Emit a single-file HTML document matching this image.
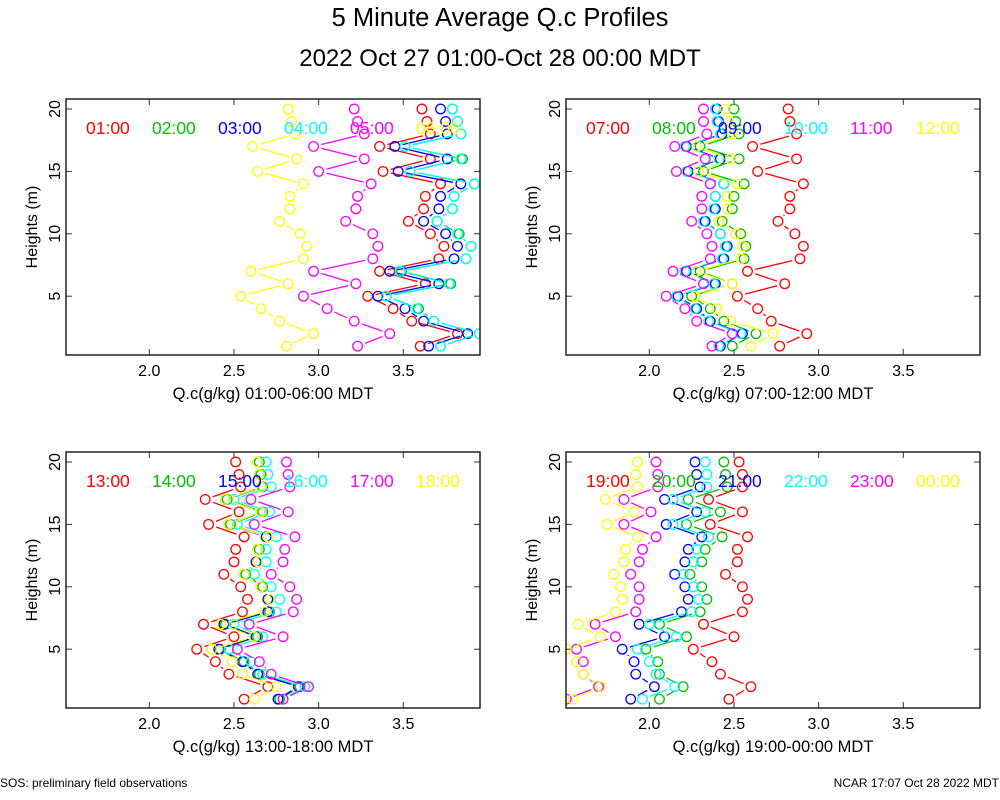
<!DOCTYPE html>
<html><head><meta charset="utf-8"><style>
html,body{margin:0;padding:0;background:#fff;}
svg{display:block;font-family:"Liberation Sans",sans-serif;}
</style></head><body>
<svg id="chart" width="1000" height="800" viewBox="0 0 1000 800" xmlns="http://www.w3.org/2000/svg">
<text x="500" y="26" font-size="25.5" text-anchor="middle">5 Minute Average Q.c Profiles</text>
<text x="500" y="66" font-size="24" text-anchor="middle">2022 Oct 27 01:00-Oct 28 00:00 MDT</text>
<text x="0" y="787" font-size="12">SOS: preliminary field observations</text>
<text x="999" y="787" font-size="12" text-anchor="end">NCAR 17:07 Oct 28 2022 MDT</text>
</svg>
<script>
const heights=[20,19,18,17,16,15,14,13,12,11,10,9,8,7,6,5,4,3,2,1];
const xTicks=[2.0,2.5,3.0,3.5];
const yTicks=[5,10,15,20];
const colors=["#ff0000","#00c000","#0000ff","#00ffff","#ff00ff","#ffff00"];
const labels1=["01:00","02:00","03:00","04:00","05:00","06:00"];
const labels2=["07:00","08:00","09:00","10:00","11:00","12:00"];
const labels3=["13:00","14:00","15:00","16:00","17:00","18:00"];
const labels4=["19:00","20:00","21:00","22:00","23:00","00:00"];
const p1_01=[3.61,3.64,3.66,3.36,3.66,3.38,3.72,3.63,3.62,3.53,3.66,3.74,3.71,3.36,3.63,3.29,3.44,3.55,3.82,3.60];
const p1_02=[3.79,3.82,3.84,3.51,3.85,3.54,3.92,3.80,3.79,3.70,3.83,3.90,3.87,3.49,3.78,3.40,3.59,3.68,3.95,3.72];
const p1_03=[3.72,3.75,3.76,3.45,3.76,3.47,3.84,3.72,3.71,3.62,3.75,3.82,3.80,3.42,3.71,3.35,3.51,3.62,3.88,3.65];
const p1_04=[3.79,3.82,3.84,3.51,3.84,3.54,3.92,3.80,3.79,3.70,3.82,3.90,3.87,3.48,3.77,3.40,3.58,3.68,3.95,3.72];
const p1_05=[3.21,3.23,3.27,2.97,3.27,3.00,3.31,3.23,3.22,3.16,3.32,3.35,3.32,2.97,3.22,2.91,3.05,3.21,3.42,3.23];
const p1_06=[2.82,2.84,2.86,2.61,2.87,2.64,2.91,2.83,2.83,2.77,2.89,2.93,2.91,2.60,2.82,2.54,2.66,2.77,2.97,2.81];
const p2_07=[2.82,2.83,2.87,2.61,2.87,2.64,2.91,2.83,2.83,2.76,2.86,2.91,2.89,2.58,2.80,2.52,2.64,2.72,2.93,2.77];
const p2_08=[2.50,2.51,2.53,2.30,2.53,2.32,2.56,2.50,2.49,2.43,2.54,2.57,2.56,2.30,2.49,2.25,2.36,2.44,2.63,2.49];
const p2_09=[2.40,2.41,2.43,2.22,2.42,2.23,2.44,2.39,2.39,2.33,2.42,2.46,2.44,2.22,2.39,2.17,2.28,2.36,2.55,2.42];
const p2_10=[2.39,2.40,2.42,2.21,2.41,2.22,2.44,2.39,2.38,2.32,2.42,2.45,2.43,2.21,2.38,2.16,2.27,2.35,2.54,2.41];
const p2_11=[2.32,2.32,2.34,2.15,2.33,2.16,2.36,2.31,2.31,2.25,2.34,2.37,2.36,2.14,2.32,2.10,2.21,2.28,2.49,2.37];
const p2_12=[2.45,2.47,2.49,2.28,2.48,2.29,2.52,2.46,2.46,2.41,2.51,2.55,2.54,2.28,2.49,2.27,2.40,2.48,2.73,2.60];
const p3_13=[2.51,2.53,2.54,2.33,2.53,2.35,2.56,2.51,2.50,2.44,2.54,2.58,2.55,2.32,2.50,2.28,2.39,2.47,2.70,2.56];
const p3_14=[2.65,2.66,2.67,2.46,2.67,2.48,2.70,2.65,2.64,2.57,2.67,2.71,2.71,2.45,2.64,2.42,2.56,2.65,2.89,2.77];
const p3_15=[2.64,2.65,2.66,2.45,2.66,2.47,2.69,2.64,2.63,2.56,2.66,2.70,2.70,2.44,2.63,2.41,2.55,2.64,2.88,2.76];
const p3_16=[2.69,2.70,2.72,2.50,2.71,2.52,2.75,2.69,2.69,2.62,2.72,2.77,2.75,2.50,2.67,2.47,2.60,2.67,2.92,2.79];
const p3_17=[2.81,2.82,2.83,2.60,2.82,2.62,2.86,2.80,2.79,2.72,2.83,2.87,2.85,2.59,2.79,2.52,2.65,2.72,2.94,2.79];
const p3_18=[2.64,2.65,2.66,2.45,2.66,2.47,2.70,2.64,2.64,2.56,2.66,2.71,2.68,2.42,2.62,2.37,2.49,2.55,2.75,2.62];
const p4_19=[2.53,2.55,2.55,2.35,2.55,2.36,2.58,2.52,2.52,2.45,2.55,2.58,2.55,2.32,2.50,2.26,2.37,2.42,2.60,2.47];
const p4_20=[2.44,2.45,2.46,2.23,2.42,2.22,2.43,2.33,2.31,2.24,2.31,2.34,2.30,2.06,2.22,1.98,2.05,2.06,2.20,2.06];
const p4_21=[2.27,2.28,2.30,2.09,2.28,2.10,2.31,2.23,2.21,2.15,2.21,2.23,2.19,1.94,2.09,1.84,1.91,1.92,2.03,1.89];
const p4_22=[2.33,2.34,2.34,2.14,2.33,2.14,2.35,2.28,2.26,2.20,2.26,2.29,2.25,2.00,2.16,1.93,2.00,2.04,2.15,1.96];
const p4_23=[2.04,2.05,2.05,1.85,2.01,1.85,2.04,1.96,1.94,1.89,1.94,1.94,1.92,1.68,1.80,1.57,1.61,1.61,1.70,1.51];
const p4_00=[1.93,1.92,1.93,1.74,1.91,1.75,1.93,1.86,1.85,1.79,1.83,1.84,1.80,1.58,1.71,1.51,1.57,1.61,1.71,1.55];

const NS="http://www.w3.org/2000/svg";
const svg=document.getElementById('chart');
function mk(tag,attrs,parent){const e=document.createElementNS(NS,tag);for(const k in attrs)e.setAttribute(k,attrs[k]);(parent||svg).appendChild(e);return e;}

const XMIN=1.508,XMAX=3.953,YMIN=0.29,YMAX=20.8;
const panels=[
 {ox:66,oy:99,title:"Q.c(g/kg) 01:00-06:00 MDT",labels:labels1,series:[p1_01,p1_02,p1_03,p1_04,p1_05,p1_06],name:"panel-01-06"},
 {ox:566,oy:99,title:"Q.c(g/kg) 07:00-12:00 MDT",labels:labels2,series:[p2_07,p2_08,p2_09,p2_10,p2_11,p2_12],name:"panel-07-12"},
 {ox:66,oy:452,title:"Q.c(g/kg) 13:00-18:00 MDT",labels:labels3,series:[p3_13,p3_14,p3_15,p3_16,p3_17,p3_18],name:"panel-13-18"},
 {ox:566,oy:452,title:"Q.c(g/kg) 19:00-00:00 MDT",labels:labels4,series:[p4_19,p4_20,p4_21,p4_22,p4_23,p4_00],name:"panel-19-00"}
];
const W=414,H=256;
panels.forEach((p,pi)=>{
  const g=mk('g',{});
  
  
  const xs=v=>p.ox+(v-XMIN)/(XMAX-XMIN)*W;
  const ys=v=>p.oy+H-(v-YMIN)/(YMAX-YMIN)*H;
  const cid='clip'+pi;
  const cp=mk('clipPath',{id:cid},g);
  mk('rect',{x:p.ox,y:p.oy,width:W,height:H},cp);
  xTicks.forEach(t=>{
    const x=xs(t);
    mk('line',{x1:x,y1:p.oy+H,x2:x,y2:p.oy+H-6,stroke:'#333','stroke-width':1},g);
    mk('line',{x1:x,y1:p.oy,x2:x,y2:p.oy+6,stroke:'#333','stroke-width':1},g);
    const tl=mk('text',{x:x,y:p.oy+H+21,'font-size':16,'text-anchor':'middle'},g);
    
    
    tl.textContent=t.toFixed(1);
  });
  yTicks.forEach(t=>{
    const y=ys(t);
    mk('line',{x1:p.ox,y1:y,x2:p.ox+6,y2:y,stroke:'#333','stroke-width':1},g);
    mk('line',{x1:p.ox+W,y1:y,x2:p.ox+W-6,y2:y,stroke:'#333','stroke-width':1},g);
    const tl=mk('text',{x:0,y:0,'font-size':16,'text-anchor':'middle',transform:`translate(${p.ox-6},${y}) rotate(-90)`},g);
    
    
    tl.textContent=t;
  });
  const xt=mk('text',{x:p.ox+W/2,y:p.oy+H+44,'font-size':16.5,'text-anchor':'middle'},g);
  
  
  xt.textContent=p.title;
  const yt=mk('text',{x:0,y:0,'font-size':16,'text-anchor':'middle',transform:`translate(${p.ox-29},${p.oy+H/2}) rotate(-90)`},g);
  
  
  yt.textContent='Heights (m)';
  const dg=mk('g',{'clip-path':`url(#${cid})`},g);
  p.series.forEach((s,si)=>{
    const sg=mk('g',{stroke:colors[si],fill:'none','stroke-width':1.3},dg);
    
    
    const pts=s.map((v,i)=>[xs(v),ys(heights[i])]);
    for(let i=0;i<pts.length-1;i++){
      const [x1,y1]=pts[i],[x2,y2]=pts[i+1];
      const dx=x2-x1,dy=y2-y1,L=Math.hypot(dx,dy),gap=8;
      if(L>2*gap+1){
        const ux=dx/L,uy=dy/L;
        mk('line',{x1:x1+ux*gap,y1:y1+uy*gap,x2:x2-ux*gap,y2:y2-uy*gap},sg);
      }
    }
    pts.forEach(pt=>{
      const c=mk('circle',{cx:pt[0],cy:pt[1],r:4.8},sg);
      
      
    });
  });
  p.labels.forEach((lb,li)=>{
    const t=mk('text',{x:p.ox+20+li*66,y:p.oy+35,'font-size':17.5,fill:colors[li]},g);
    
    
    t.textContent=lb;
  });
  const fr=mk('rect',{x:p.ox,y:p.oy,width:W,height:H,fill:'none',stroke:'#222','stroke-width':1.5},g);
  
  
});
</script>
</body></html>
